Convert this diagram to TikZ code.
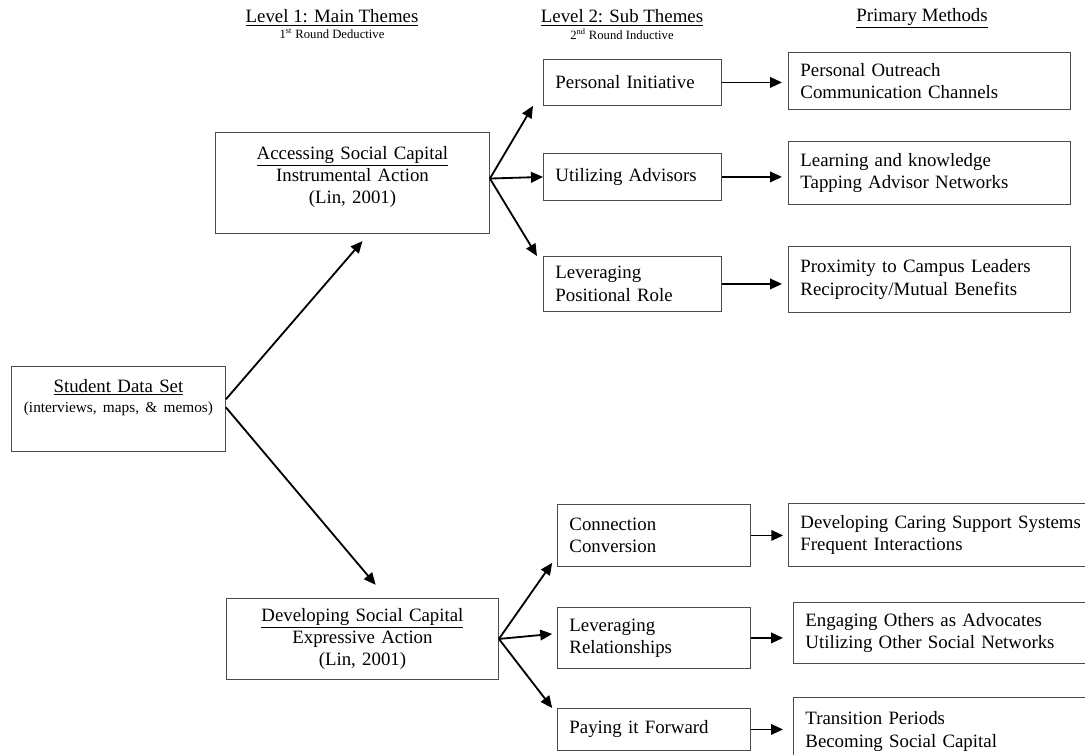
\documentclass[tikz,border=0pt]{standalone}
\usepackage{fontspec}
\setmainfont{Liberation Serif}
\usetikzlibrary{arrows.meta}

\begin{document}
\begin{tikzpicture}[x=0.025cm,y=-0.025cm,
  font=\fontsize{13.4}{15.8}\selectfont,
  box/.style={draw=black!70,line width=0.6pt,anchor=north west,inner sep=0pt},
  theme/.style={box,align=center},
  sub/.style={box,align=left,inner xsep=0.3cm},
  arr/.style={line width=1.3pt,-{Triangle[length=8.5pt,width=7.5pt]}}]
  \useasboundingbox (0,0) rectangle (1085,755);
  \clip (0,0) rectangle (1085,755);
  % headings
  \node (head1) at (332,18) {\underline{Level 1: Main Themes}};
  \node[font=\fontsize{9}{10}\selectfont] (round1) at (332,34) {1\textsuperscript{st} Round Deductive};
  \node (head2) at (622,18) {\underline{Level 2: Sub Themes}};
  \node[font=\fontsize{9}{10}\selectfont] (round2) at (622,34) {2\textsuperscript{nd} Round Inductive};
  \node (head3) at (922,18) {\underline{Primary Methods}};
  % level 1
  \node[theme,minimum width=5.35cm,minimum height=2.125cm,text width=5.35cm,text depth=1.15cm]
    (data) at (11,366) {\underline{Student Data Set}\\[-1.6pt]{\fontsize{10.9}{14}\selectfont(interviews, maps, \& memos)}};
  \node[theme,minimum width=6.85cm,minimum height=2.525cm,text width=6.85cm,text depth=1.5cm]
    (access) at (215,132) {\underline{Accessing Social Capital}\\Instrumental Action\\(Lin, 2001)};
  \node[theme,minimum width=6.8cm,minimum height=2.025cm,text width=6.8cm]
    (develop) at (226,598) {\underline{Developing Social Capital}\\Expressive Action\\(Lin, 2001)};
  % level 2
  \node[sub,text width=3.85cm,minimum height=1.15cm] (init) at (543,59) {Personal Initiative};
  \node[sub,text width=3.85cm,minimum height=1.175cm] (advisors) at (543,153) {Utilizing Advisors};
  \node[sub,text width=3.85cm,minimum height=1.375cm] (positional) at (543,256) {Leveraging\\Positional Role};
  \node[sub,text width=4.225cm,minimum height=1.55cm] (conversion) at (557,504) {Connection\\Conversion};
  \node[sub,text width=4.225cm,minimum height=1.525cm] (relations) at (557,607) {Leveraging\\Relationships};
  \node[sub,text width=4.225cm,minimum height=1.05cm] (forward) at (557,708) {Paying it Forward};
  % methods
  \node[sub,text width=6.45cm,minimum height=1.425cm] (outreach) at (788,52) {Personal Outreach\\Communication Channels};
  \node[sub,text width=6.45cm,minimum height=1.575cm] (knowledge) at (788,141) {Learning and knowledge\\Tapping Advisor Networks};
  \node[sub,text width=6.45cm,minimum height=1.65cm] (proximity) at (788,246) {Proximity to Campus Leaders\\Reciprocity/Mutual Benefits};
  \node[sub,text width=7.075cm,minimum height=1.575cm] (caring) at (788,503) {Developing Caring Support Systems\\Frequent Interactions};
  \node[sub,text width=6.95cm,minimum height=1.525cm] (advocates) at (793,602) {Engaging Others as Advocates\\Utilizing Other Social Networks};
  \node[sub,text width=6.95cm,minimum height=1.7cm] (transition) at (793,697) {Transition Periods\\Becoming Social Capital};
  % data set to main themes
  \draw[arr] ([yshift=0.24cm]data.east) -- ([xshift=0.25cm,yshift=-0.18cm]access.south);
  \draw[arr] ([yshift=0.04cm]data.east) -- ([xshift=0.33cm,yshift=0.33cm]develop.north);
  % main themes to sub themes
  \draw[arr] ([yshift=0.11cm]access.east) -- ([xshift=-0.25cm]init.south west);
  \draw[arr] ([yshift=0.11cm]access.east) -- (advisors.west);
  \draw[arr] ([yshift=0.11cm]access.east) -- ([xshift=-0.15cm]positional.north west);
  \draw[arr] (develop.east) -- ([xshift=-0.12cm,yshift=0.1cm]conversion.south west);
  \draw[arr] (develop.east) -- ([xshift=-0.12cm,yshift=0.1cm]relations.west);
  \draw[arr] (develop.east) -- ([xshift=-0.12cm]forward.north west);
  % sub themes to methods
  \draw[arr,shorten >=0.15cm] (init.east) -- (init.east -| outreach.west);
  \draw[arr,shorten >=0.15cm] (advisors.east) -- (advisors.east -| knowledge.west);
  \draw[arr,shorten >=0.15cm] (positional.east) -- (positional.east -| proximity.west);
  \draw[arr,shorten >=0.12cm] (conversion.east) -- (conversion.east -| caring.west);
  \draw[arr,shorten >=0.25cm] (relations.east) -- (relations.east -| advocates.west);
  \draw[arr,shorten >=0.25cm] (forward.east) -- (forward.east -| transition.west);
\end{tikzpicture}
\end{document}
